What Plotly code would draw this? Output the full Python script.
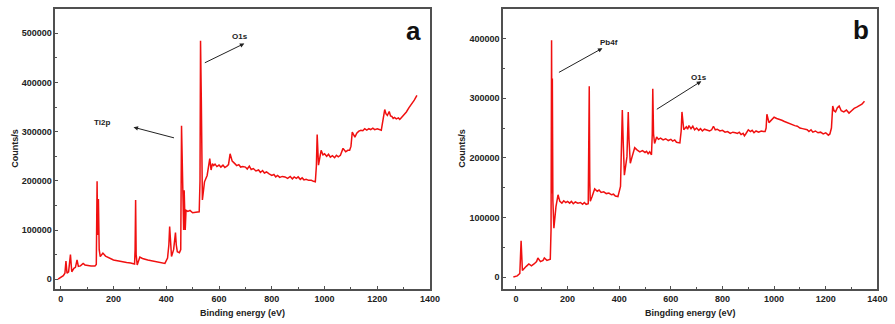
import plotly.graph_objects as go

# ---------------- data ----------------
energy_a = [-10, 0, 10, 16, 20, 24, 30, 37, 42, 50, 56, 62, 67, 75, 85, 92, 100, 115, 130, 135,
            138, 140, 143, 146, 150, 160, 170, 185, 200, 220, 235, 250, 265, 280, 282, 284, 286, 290,
            300, 310, 330, 350, 375, 395, 405, 410, 413, 416, 420, 428, 432, 435, 438, 442, 450, 455,
            458, 461, 464, 466, 468, 472, 475, 482, 490, 500, 512, 525, 528, 530, 533, 537, 545, 555,
            565, 570, 575, 580, 585, 592, 600, 607, 615, 622, 630, 636, 642, 650, 660, 667, 675, 682,
            690, 700, 707, 715, 722, 730, 740, 750, 757, 765, 772, 780, 790,
            800, 808, 815, 822, 830, 840, 850, 860, 870, 878, 885, 893, 900, 908, 915, 922, 930, 940,
            950, 958, 965, 969, 972, 977, 982, 987, 994, 1000, 1008, 1015, 1022,
            1030, 1038, 1045, 1052, 1060, 1070, 1080, 1088, 1095, 1100, 1105, 1115, 1122, 1130, 1138,
            1145, 1152, 1160, 1168, 1175, 1183, 1190, 1200,
            1215, 1222, 1228, 1233, 1238, 1245, 1250, 1255, 1260, 1265, 1272, 1280, 1285, 1290, 1300,
            1310, 1320, 1330, 1340, 1350]
counts_a = [0, 3000, 7000, 12000, 37000, 12000, 15000, 50000, 15000, 22000, 24000, 39000, 26000,
            27000, 32000, 29000, 28000, 27000, 27000, 30000,
            199000, 90000, 163000, 60000, 46000, 53000, 47000, 43000, 39000, 37000, 35000, 34000, 33000,
            31000, 60000, 161000, 50000, 29000,
            45000, 42000, 39000, 37000, 34000, 32000, 43000, 70000, 107000, 70000, 46000, 60000, 80000,
            95000, 70000, 56000, 54000, 60000,
            312000, 222000, 181000, 100000, 181000, 100000, 140000, 138000, 140000, 135000, 136000,
            137000, 200000, 485000, 364000, 161000, 198000, 211000,
            245000, 222000, 235000, 231000, 234000, 229000, 232000, 228000, 232000, 227000, 230000,
            233000, 255000, 240000, 235000, 231000, 233000, 228000,
            229000, 228000, 224000, 230000, 223000, 225000, 220000, 222000, 217000, 221000, 216000,
            218000, 214000,
            211000, 213000, 208000, 211000, 207000, 209000, 208000, 205000, 209000, 204000, 208000,
            205000, 208000, 203000, 206000, 202000, 203000, 201000,
            201000, 199000, 198000, 230000, 294000, 232000, 250000, 262000, 253000, 255000, 250000,
            254000, 248000,
            251000, 247000, 252000, 249000, 252000, 266000, 259000, 262000, 262000, 270000, 299000,
            289000, 297000, 301000, 303000,
            302000, 306000, 303000, 306000, 304000, 307000, 304000, 306000,
            303000, 325000, 345000, 336000, 333000, 341000, 332000, 331000, 327000, 329000, 326000,
            328000, 325000, 328000, 333000,
            340000, 349000, 356000, 364000, 374000]

energy_b = [-10, 5, 15, 20, 25, 32, 40, 50, 60, 70, 80, 85, 95, 105, 110, 120, 133, 136,
            138, 140, 141, 143, 147, 155, 163, 170, 178, 185, 193, 200, 208, 215, 222, 230, 240, 250,
            258, 265, 272, 280, 282, 284, 286,
            288, 295, 305, 315, 322, 330, 340, 350, 360, 370, 378, 385, 395, 405, 409, 412, 416, 420,
            430, 433, 435, 438,
            443, 450, 460, 470, 480, 490, 500, 506, 512, 518, 525, 528, 530, 533, 537, 545, 552, 560,
            570, 580, 590, 600, 607, 615, 622,
            635, 640, 643, 647, 650, 660, 665, 670, 678, 685, 692, 700, 708, 715, 722, 730, 740, 750,
            758, 765, 772, 780, 790, 800, 810, 820, 830, 840, 850,
            858, 865, 872, 880, 885, 890, 900, 908, 915, 922, 930, 940, 950, 958, 965, 969, 972, 980,
            990, 1000, 1010, 1020, 1030, 1040, 1050, 1060, 1070,
            1080, 1090, 1100, 1110, 1120, 1128, 1135, 1143, 1150, 1160, 1170, 1180, 1190, 1200, 1210,
            1216, 1222, 1227, 1232, 1238, 1245, 1252, 1260, 1270, 1280,
            1290, 1300, 1310, 1320, 1330, 1340, 1350]
counts_b = [0, 2000, 6000, 61000, 11000, 15000, 18000, 22000, 19000, 22000, 26000, 32000, 26000,
            28000, 32000, 28000, 30000, 80000,
            397000, 140000, 333000, 129000, 82000, 118000, 138000, 127000, 124000, 128000, 125000,
            127000, 124000, 127000, 123000, 126000, 124000, 125000,
            122000, 125000, 122000, 123000, 180000, 320000, 160000,
            127000, 135000, 148000, 144000, 146000, 142000, 143000, 140000, 141000, 138000, 139000,
            136000, 135000, 152000, 220000, 280000, 220000, 171000,
            202000, 240000, 277000, 230000,
            191000, 202000, 217000, 213000, 210000, 212000, 209000, 211000, 207000, 210000, 205000,
            240000, 316000, 240000, 224000, 235000, 231000, 233000,
            230000, 232000, 229000, 231000, 228000, 230000, 226000,
            225000, 245000, 277000, 255000, 247000, 252000, 248000, 254000, 249000, 253000, 247000,
            250000, 246000, 249000, 245000, 248000, 246000, 245000,
            247000, 253000, 247000, 248000, 245000, 246000, 243000, 244000, 241000, 243000, 242000,
            241000, 243000, 239000, 241000, 237000, 240000, 247000, 244000, 246000, 242000, 245000,
            243000, 245000, 244000, 244000, 250000, 273000, 259000,
            264000, 268000, 266000, 265000, 263000, 261000, 259000, 257000, 256000, 254000,
            253000, 250000, 249000, 248000, 247000, 244000, 247000, 243000, 245000, 242000, 243000,
            240000, 242000, 238000, 240000,
            250000, 287000, 279000, 277000, 284000, 287000, 279000, 277000, 280000, 275000,
            279000, 283000, 285000, 288000, 290000, 295000, 302000, 315000]

x_ticks = [0, 200, 400, 600, 800, 1000, 1200, 1400]
y_ticks_a = [0, 100000, 200000, 300000, 400000, 500000]
y_ticks_b = [0, 100000, 200000, 300000, 400000]

x_title_a = "Binding energy (eV)"
x_title_b = "Bingding energy (eV)"
y_title = "Counts/s"

# ---------------- figure ----------------
RED = "#f01010"
AX = "#505050"
FONT = "Liberation Sans"

fig = go.Figure()
fig.add_trace(go.Scatter(x=energy_a, y=counts_a, mode="lines",
                         line=dict(color=RED, width=1.5), xaxis="x", yaxis="y",
                         showlegend=False, hoverinfo="skip"))
fig.add_trace(go.Scatter(x=energy_b, y=counts_b, mode="lines",
                         line=dict(color=RED, width=1.5), xaxis="x2", yaxis="y2",
                         showlegend=False, hoverinfo="skip"))

tickfont = dict(family=FONT, size=9, color="#222222", weight="bold")
common_ax = dict(showline=True, linecolor=AX, linewidth=1.5, mirror=True,
                 ticks="inside", ticklen=3, tickwidth=1, tickcolor=AX,
                 showgrid=False, zeroline=False, tickfont=tickfont, tickformat="d",
                 minor=dict(ticks="inside", ticklen=2, tickcolor=AX, showgrid=False))

ydom = [0.108, 0.973]
fig.update_layout(
    width=895, height=324,
    margin=dict(l=0, r=0, t=0, b=0),
    paper_bgcolor="white", plot_bgcolor="white",
    xaxis=dict(domain=[0.0626, 0.486], range=[-20, 1400], anchor="y",
               tickvals=x_ticks, minor_dtick=100, **common_ax),
    yaxis=dict(domain=ydom, range=[-20000, 550000], anchor="x",
               tickvals=y_ticks_a, minor_dtick=50000, **common_ax),
    xaxis2=dict(domain=[0.5684, 0.9914], range=[-50, 1400], anchor="y2",
                tickvals=x_ticks, minor_dtick=100, **common_ax),
    yaxis2=dict(domain=ydom, range=[-20000, 450000], anchor="x2",
                tickvals=y_ticks_b, minor_dtick=50000, **common_ax),
)

title_font = dict(family=FONT, size=9, color="#222222", weight="bold")
ann_font = dict(family=FONT, size=8, color="#222222", weight="bold")

anns = [
    # axis titles
    dict(text=x_title_a, xref="paper", yref="paper", x=245 / 895, y=1 - 313 / 324,
         showarrow=False, font=title_font, xanchor="center", yanchor="middle"),
    dict(text=x_title_b, xref="paper", yref="paper", x=698 / 895, y=1 - 313 / 324,
         showarrow=False, font=title_font, xanchor="center", yanchor="middle"),
    dict(text=y_title, xref="paper", yref="paper", x=15 / 895, y=1 - 148 / 324,
         showarrow=False, font=title_font, textangle=-90, xanchor="center", yanchor="middle"),
    dict(text=y_title, xref="paper", yref="paper", x=467 / 895, y=1 - 148 / 324,
         showarrow=False, font=title_font, textangle=-90, xanchor="center", yanchor="middle"),
    # panel letters
    dict(text="a", xref="paper", yref="paper", x=418 / 895, y=1 - 31 / 324,
         showarrow=False, font=dict(family=FONT, size=26, color="#111111", weight="bold"),
         xanchor="center", yanchor="middle"),
    dict(text="b", xref="paper", yref="paper", x=871 / 895, y=1 - 30 / 324,
         showarrow=False, font=dict(family=FONT, size=26, color="#111111", weight="bold"),
         xanchor="center", yanchor="middle"),
    # peak labels
    dict(text="Ti2p", xref="x", yref="y", x=156, y=319000, showarrow=False, font=ann_font),
    dict(text="O1s", xref="x", yref="y", x=680, y=493500, showarrow=False, font=ann_font),
    dict(text="Pb4f", xref="x2", yref="y2", x=360, y=393800, showarrow=False, font=ann_font),
    dict(text="O1s", xref="x2", yref="y2", x=710, y=335200, showarrow=False, font=ann_font),
]
arrow_style = dict(showarrow=True, text="", arrowhead=2, arrowsize=0.9, arrowwidth=1,
                   arrowcolor="#222222", standoff=0, startstandoff=0)
anns += [
    dict(xref="x", yref="y", x=276, y=309000, ax=42, ay=11, **arrow_style),
    dict(xref="x", yref="y", x=696, y=479300, ax=-41, ay=20, **arrow_style),
    dict(xref="x2", yref="y2", x=335, y=383800, ax=-45, ay=25, **arrow_style),
    dict(xref="x2", yref="y2", x=718, y=328500, ax=-46, ay=29, **arrow_style),
]
fig.update_layout(annotations=anns)

fig.write_html("out.html")
